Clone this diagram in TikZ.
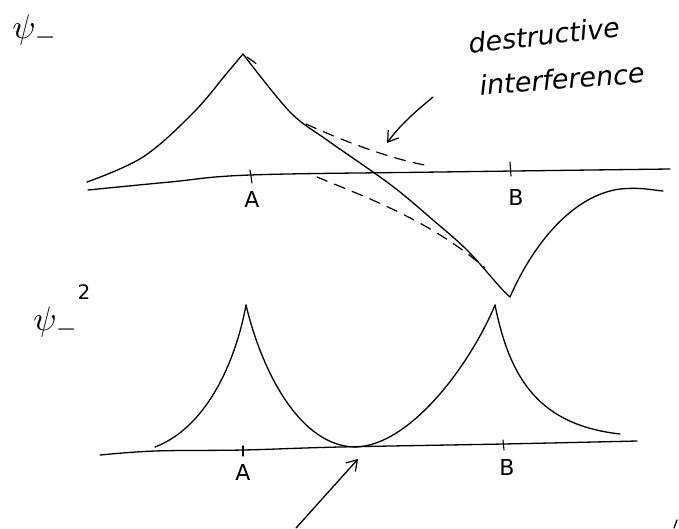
\documentclass[tikz,border=0pt]{standalone}
\usepackage{fontspec}
\setmainfont{DejaVu Sans}
\usetikzlibrary{arrows.meta}
\begin{document}
\begin{tikzpicture}[x=1pt,y=-1pt, line cap=round, line join=round,
  ink/.style={line width=1.3pt, black},
  tick/.style={line width=1.1pt, black},
  dashink/.style={line width=1.2pt, black, dash pattern=on 11pt off 8pt},
  hand/.style={font=\itshape\fontsize{27}{30}\selectfont, inner sep=0pt},
  lab/.style={font=\fontsize{22}{24}\selectfont, inner sep=0pt},
  psilab/.style={scale=3.4, transform shape, inner sep=0pt},
  barb/.style={ink, -{Straight Barb[length=10pt,width=13pt,line width=1.2pt]}}]
\useasboundingbox (0,0) rectangle (679,528);

% ---------- labels psi ----------
\node[psilab] (psitop) at (35,31) {$\psi_-$};
\node[psilab] (psibot) at (56,323) {$\psi_-$};
\node[lab, font=\fontsize{20}{22}\selectfont] (two) at (84,292) {2};

% ---------- top graph ----------
\draw[ink] plot[smooth, tension=0.6] coordinates {(88,190) (170,182) (250,175) (440,172) (670,169)};
\draw[ink] plot[smooth, tension=0.6] coordinates {(87,182) (143,157) (193,113) (227,73) (243,54)};
\draw[ink] plot[smooth, tension=0.55] coordinates {(243,54) (290,112) (327,140) (373,172) (400,192) (433,220) (467,250) (500,287) (510,297)};
\draw[ink] (510,297) .. controls (535,240) and (575,195) .. (620,189) .. controls (640,187) and (652,190) .. (663,191);
% dashed continuations
\draw[dashink] (247,57) -- (258,65);
\draw[dashink] (306,124) .. controls (350,144) and (395,160) .. (430,166);
\draw[dashink] (317,177) .. controls (365,197) and (430,220) .. (485,268);
% ticks and labels
\draw[tick] (250,170) -- (252,183);
\draw[tick] (510,162) -- (511,176);
\node[lab] (Atop) at (252,199) {A};
\node[lab] (Btop) at (516,197) {B};

% annotation
\node[hand, rotate=6.5] (t1) at (544,35) {destructive};
\node[hand, rotate=4.5] (t2) at (562,79) {interference};
\coordinate (ar1s) at (433,97);
\coordinate (ar1e) at (387,143);
\draw[barb] (ar1s) .. controls (415,112) and (400,125) .. (ar1e);

% ---------- bottom graph ----------
\draw[ink] plot[smooth, tension=0.6] coordinates {(100,455) (155,451) (243,450) (340,447) (503,444) (637,441)};
\draw[ink] (155,447) .. controls (205,428) and (235,365) .. (246,305);
\draw[ink] (246,305) .. controls (262,372) and (300,446) .. (355,447);
\draw[ink] (355,447) .. controls (410,446) and (470,365) .. (495,305);
\draw[ink] (495,305) .. controls (510,380) and (540,425) .. (620,434);
\draw[tick] (243,446) -- (243,456);
\draw[tick] (503,440) -- (504,450);
\node[lab] (Abot) at (243,472) {A};
\node[lab] (Bbot) at (507,467) {B};
\coordinate (ar2s) at (296,528);
\coordinate (ar2e) at (358,459);
\draw[barb] (ar2s) -- (ar2e);
\coordinate (m1) at (677,520);
\coordinate (m2) at (674,528);
\draw[ink] (m1) -- (m2);
\end{tikzpicture}
\end{document}
